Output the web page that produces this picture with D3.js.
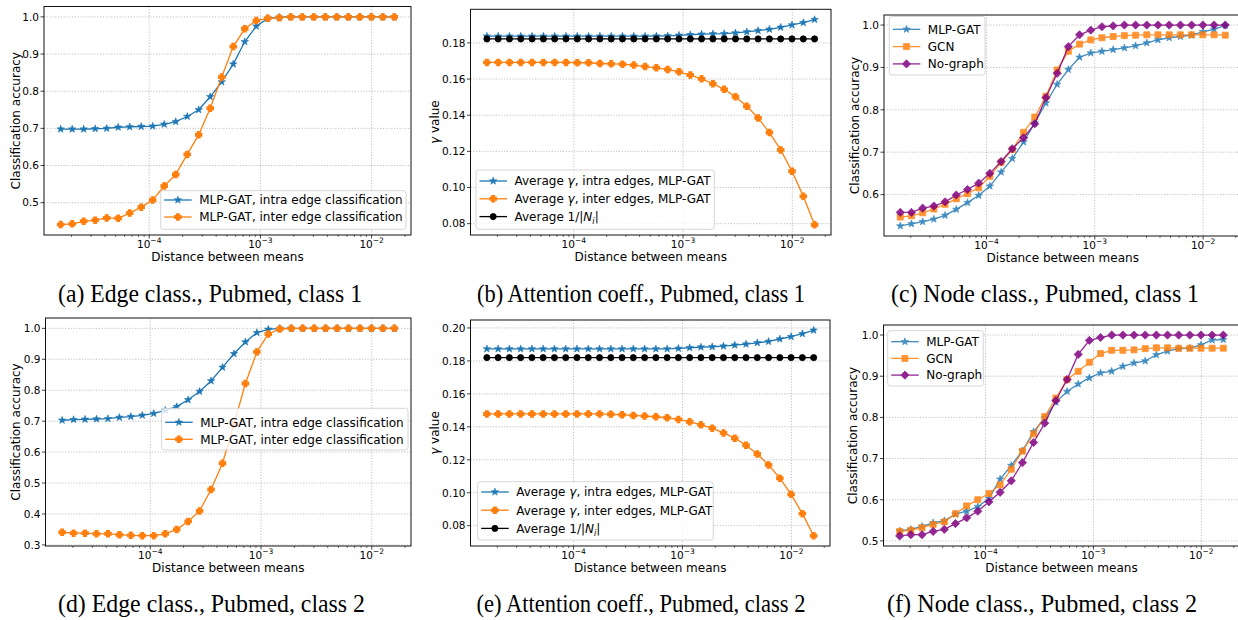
<!DOCTYPE html>
<html><head><meta charset="utf-8">
<script src="https://cdn.jsdelivr.net/npm/d3@7"></script>
<style>
body{margin:0;background:#fff;}
svg text{font-family:"DejaVu Sans",sans-serif;fill:#000;}
</style>
</head><body>
<svg id="chart" width="1238" height="620"></svg>
<script>
// ---------------- DATA ----------------
const distances = [1.600e-5,2.030e-5,2.576e-5,3.269e-5,4.148e-5,5.263e-5,6.679e-5,8.475e-5,1.075e-4,1.365e-4,
  1.732e-4,2.198e-4,2.789e-4,3.538e-4,4.490e-4,5.698e-4,7.230e-4,9.176e-4,1.164e-3,1.477e-3,
  1.875e-3,2.379e-3,3.019e-3,3.831e-3,4.861e-3,6.169e-3,7.828e-3,9.934e-3,1.261e-2,1.600e-2];

// (a) Edge classification, class 1
const aIntra = [0.698,0.698,0.698,0.699,0.700,0.703,0.704,0.705,0.706,0.711,0.718,0.732,0.750,0.785,0.825,0.873,0.933,0.975,0.996,0.999,1.0,1.0,1.0,1.0,1.0,1.0,1.0,1.0,1.0,1.0];
const aInter = [0.441,0.443,0.450,0.453,0.459,0.458,0.472,0.488,0.507,0.545,0.576,0.630,0.683,0.754,0.838,0.920,0.968,0.990,0.996,0.998,1.0,1.0,1.0,1.0,1.0,1.0,1.0,1.0,1.0,1.0];
// (b) Attention coefficients, class 1
const bIntra = [0.1837,0.1837,0.1837,0.1837,0.1837,0.1837,0.1837,0.1837,0.1837,0.1837,0.1837,0.1837,0.1837,0.1837,0.1837,0.1838,0.1839,0.1842,0.1845,0.1848,0.1850,0.1851,0.1855,0.1861,0.1868,0.1875,0.1886,0.1899,0.1912,0.1929];
const bInter = [0.1692,0.1692,0.1692,0.1692,0.1692,0.1692,0.1692,0.1692,0.1690,0.1690,0.1686,0.1684,0.1682,0.1677,0.1669,0.1662,0.1653,0.1640,0.1622,0.1601,0.1574,0.1543,0.1502,0.1449,0.1385,0.1304,0.1208,0.1090,0.0951,0.0794];
const bNbr = [0.1822,0.1822,0.1822,0.1822,0.1822,0.1822,0.1822,0.1822,0.1822,0.1822,0.1822,0.1822,0.1822,0.1822,0.1822,0.1822,0.1822,0.1822,0.1822,0.1822,0.1822,0.1822,0.1822,0.1822,0.1822,0.1822,0.1822,0.1822,0.1822,0.1822];
// (c) Node classification, class 1
const cMlp = [0.526,0.531,0.536,0.542,0.551,0.565,0.581,0.598,0.620,0.653,0.685,0.724,0.769,0.816,0.860,0.895,0.924,0.934,0.938,0.942,0.946,0.951,0.958,0.965,0.970,0.973,0.976,0.984,0.990,0.999];
const cGcn = [0.547,0.550,0.557,0.566,0.577,0.590,0.602,0.616,0.643,0.676,0.706,0.747,0.783,0.832,0.894,0.938,0.955,0.965,0.970,0.973,0.975,0.976,0.977,0.977,0.977,0.977,0.977,0.977,0.977,0.976];
const cNone = [0.558,0.558,0.568,0.573,0.583,0.599,0.612,0.627,0.650,0.678,0.708,0.734,0.767,0.829,0.886,0.949,0.977,0.988,0.996,0.998,1.0,1.0,1.0,1.0,1.0,1.0,1.0,1.0,1.0,1.0];
// (d) Edge classification, class 2
const dIntra = [0.703,0.705,0.706,0.707,0.708,0.712,0.715,0.719,0.725,0.735,0.747,0.769,0.796,0.830,0.874,0.918,0.956,0.986,0.997,1.0,1.0,1.0,1.0,1.0,1.0,1.0,1.0,1.0,1.0,1.0];
const dInter = [0.341,0.338,0.338,0.336,0.336,0.333,0.331,0.330,0.330,0.336,0.350,0.376,0.410,0.479,0.564,0.690,0.822,0.924,0.982,0.998,1.0,1.0,1.0,1.0,1.0,1.0,1.0,1.0,1.0,1.0];
// (e) Attention coefficients, class 2
const eIntra = [0.1873,0.1873,0.1873,0.1873,0.1873,0.1873,0.1873,0.1873,0.1873,0.1873,0.1873,0.1873,0.1873,0.1873,0.1873,0.1873,0.1873,0.1876,0.1880,0.1884,0.1886,0.1890,0.1896,0.1902,0.1910,0.1918,0.1933,0.1947,0.1965,0.1986];
const eInter = [0.1478,0.1478,0.1478,0.1478,0.1478,0.1478,0.1478,0.1478,0.1478,0.1478,0.1478,0.1476,0.1473,0.1469,0.1465,0.1461,0.1455,0.1445,0.1431,0.1412,0.1392,0.1363,0.1331,0.1288,0.1235,0.1169,0.1088,0.0990,0.0873,0.0739];
const eNbr = [0.182,0.182,0.182,0.182,0.182,0.182,0.182,0.182,0.182,0.182,0.182,0.182,0.182,0.182,0.182,0.182,0.182,0.182,0.182,0.182,0.182,0.182,0.182,0.182,0.182,0.182,0.182,0.182,0.182,0.182];
// (f) Node classification, class 2
const fMlp = [0.524,0.528,0.535,0.544,0.549,0.565,0.572,0.583,0.603,0.650,0.683,0.719,0.765,0.799,0.837,0.863,0.881,0.896,0.908,0.912,0.924,0.932,0.937,0.952,0.961,0.967,0.968,0.976,0.988,0.989];
const fGcn = [0.523,0.526,0.532,0.540,0.546,0.566,0.585,0.600,0.615,0.636,0.674,0.718,0.760,0.802,0.847,0.892,0.912,0.934,0.955,0.963,0.963,0.964,0.967,0.969,0.969,0.968,0.968,0.968,0.968,0.968];
const fNone = [0.512,0.515,0.515,0.523,0.528,0.542,0.556,0.572,0.595,0.618,0.646,0.690,0.739,0.786,0.841,0.892,0.953,0.987,0.994,1.0,1.0,1.0,1.0,1.0,1.0,1.0,1.0,1.0,1.0,1.0];

// tick values
const xMajorExps = [-4,-3,-2];
const yTicksA = [0.5,0.6,0.7,0.8,0.9,1.0];
const yTicksB = [0.08,0.10,0.12,0.14,0.16,0.18];
const yTicksC = [0.6,0.7,0.8,0.9,1.0];
const yTicksD = [0.3,0.4,0.5,0.6,0.7,0.8,0.9,1.0];
const yTicksE = [0.08,0.10,0.12,0.14,0.16,0.18,0.20];
const yTicksF = [0.5,0.6,0.7,0.8,0.9,1.0];

// labels
const xLabel = "Distance between means";
const accLabel = [{t:"Classification accuracy"}];
const gammaLabel = [{t:"γ",i:true},{t:" value"}];
const edgeNames = [[{t:"MLP-GAT, intra edge classification"}],[{t:"MLP-GAT, inter edge classification"}]];
const attnNames = [[{t:"Average "},{t:"γ",i:true},{t:", intra edges, MLP-GAT"}],
                   [{t:"Average "},{t:"γ",i:true},{t:", inter edges, MLP-GAT"}],
                   [{t:"Average 1/|"},{t:"N",i:true},{t:"i",i:true,sub:true},{t:"|"}]];
const nodeNames = [[{t:"MLP-GAT"}],[{t:"GCN"}],[{t:"No-graph"}]];
const captions = ["(a) Edge class., Pubmed, class 1","(b) Attention coeff., Pubmed, class 1","(c) Node class., Pubmed, class 1",
                  "(d) Edge class., Pubmed, class 2","(e) Attention coeff., Pubmed, class 2","(f) Node class., Pubmed, class 2"];

// ---------------- STYLES / LAYOUT ----------------
const BLUE="#1f77b4", ORANGE="#ff7f0e", PURPLE="#800080", BLACK="#000000";

const panels = [
  {box:{l:44,r:411,t:6.5,b:235}, ys:[[aIntra,BLUE,"star"],[aInter,ORANGE,"plus"]], names:edgeNames, yTicks:yTicksA, fmt:".1f", ylab:accLabel, ylabX:16,
   leg:{x:160.7,y:190.7,w:245.3,h:38.6,r0:9.3,dy:17}, cap:{x:210,y:302,w:304}, op:1},
  {box:{l:470.5,r:831,t:9.3,b:235}, ys:[[bIntra,BLUE,"star"],[bInter,ORANGE,"plus"],[bNbr,BLACK,"circle"]], names:attnNames, yTicks:yTicksB, fmt:".2f", ylab:gammaLabel, ylabX:435,
   leg:{x:476,y:170,w:238.3,h:59.3,r0:11,dy:17.8}, cap:{x:641,y:302,w:328}, op:1},
  {box:{l:884,r:1241.5,t:15,b:236}, ys:[[cMlp,BLUE,"star"],[cGcn,ORANGE,"square"],[cNone,PURPLE,"diamond"]], names:nodeNames, yTicks:yTicksC, fmt:".1f", ylab:accLabel, ylabX:855,
   leg:{x:889.3,y:16.5,w:95.7,h:58.5,r0:12.8,dy:17.3}, cap:{x:1045,y:302,w:308}, op:0.85},
  {box:{l:45.5,r:411,t:318,b:546}, ys:[[dIntra,BLUE,"star"],[dInter,ORANGE,"plus"]], names:edgeNames, yTicks:yTicksD, fmt:".1f", ylab:accLabel, ylabX:16,
   leg:{x:161.7,y:408.3,w:246.3,h:41.7,r0:14,dy:17}, cap:{x:211.5,y:612,w:307}, op:1},
  {box:{l:470.5,r:830,t:320,b:546}, ys:[[eIntra,BLUE,"star"],[eInter,ORANGE,"plus"],[eNbr,BLACK,"circle"]], names:attnNames, yTicks:yTicksE, fmt:".2f", ylab:gammaLabel, ylabX:435,
   leg:{x:477.7,y:481.7,w:235.6,h:58.3,r0:10.3,dy:18.2}, cap:{x:641,y:612,w:329}, op:1},
  {box:{l:883.5,r:1239.5,t:325,b:546}, ys:[[fMlp,BLUE,"star"],[fGcn,ORANGE,"square"],[fNone,PURPLE,"diamond"]], names:nodeNames, yTicks:yTicksF, fmt:".1f", ylab:accLabel, ylabX:853,
   leg:{x:887.7,y:330.7,w:95.6,h:55.3,r0:11,dy:16.7}, cap:{x:1042,y:612,w:310}, op:0.85}
];

// ---------------- MARKERS ----------------
function starPath(R){const p=[];for(let i=0;i<10;i++){const r=i%2?R*0.4:R;const a=-Math.PI/2+i*Math.PI/5;p.push([r*Math.cos(a),r*Math.sin(a)]);}return "M"+p.map(d=>d[0].toFixed(2)+","+d[1].toFixed(2)).join("L")+"Z";}
function plusPath(h){const a=h*0.42;const pts=[[-a,-h],[a,-h],[a,-a],[h,-a],[h,a],[a,a],[a,h],[-a,h],[-a,a],[-h,a],[-h,-a],[-a,-a]];return "M"+pts.map(d=>d.join(",")).join("L")+"Z";}
function squarePath(h){return `M${-h},${-h}L${h},${-h}L${h},${h}L${-h},${h}Z`;}
function diamondPath(h){return `M0,${-h}L${h},0L0,${h}L${-h},0Z`;}
function circlePath(r){return `M${r},0A${r},${r},0,1,1,${-r},0A${r},${r},0,1,1,${r},0Z`;}
const markers = {
  star:{d:starPath(3.9), sw:0.6},
  plus:{d:plusPath(3.1), sw:1.3},
  square:{d:squarePath(3.0), sw:0.8},
  diamond:{d:diamondPath(4.1), sw:0.8},
  circle:{d:circlePath(3.1), sw:0.8}
};

const svg = d3.select("#chart");
svg.append("rect").attr("width",1238).attr("height",620).attr("fill","#fff");

function addRich(sel, segs, size){
  segs.forEach(s=>{
    const ts = sel.append("tspan").text(s.t);
    if(s.i) ts.attr("font-style","italic");
    if(s.sub){ ts.attr("font-size",size*0.7).attr("dy",size*0.25); }
    else if(sel.attr("data-sub")==="1"){ ts.attr("dy",-size*0.25); }
    sel.attr("data-sub", s.sub?"1":"0");
  });
}

panels.forEach(P=>{
  const g = svg.append("g");
  const B = P.box;
  const allY = P.ys.flatMap(s=>s[0]);
  const yMin=d3.min(allY), yMax=d3.max(allY), pad=(yMax-yMin)*0.05;
  const y = d3.scaleLinear().domain([yMin-pad,yMax+pad]).range([B.b,B.t]);
  const lx0=Math.log10(d3.min(distances)), lx1=Math.log10(d3.max(distances)), lp=(lx1-lx0)*0.05;
  const x = d3.scaleLog().domain([Math.pow(10,lx0-lp),Math.pow(10,lx1+lp)]).range([B.l,B.r]);

  const clipId = "clip"+Math.random().toString(36).slice(2);
  g.append("clipPath").attr("id",clipId).append("rect").attr("x",B.l).attr("y",B.t).attr("width",B.r-B.l).attr("height",B.b-B.t);

  // grid
  const grid = g.append("g").attr("stroke","#b0b0b0").attr("stroke-width",0.8).attr("stroke-dasharray","1.2,1.6");
  xMajorExps.forEach(e=>{const v=Math.pow(10,e);grid.append("line").attr("x1",x(v)).attr("x2",x(v)).attr("y1",B.t).attr("y2",B.b);});
  P.yTicks.forEach(v=>{grid.append("line").attr("x1",B.l).attr("x2",B.r).attr("y1",y(v)).attr("y2",y(v));});

  // series
  const plot = g.append("g").attr("clip-path",`url(#${clipId})`);
  const line = d3.line().x((d,i)=>x(distances[i])).y(d=>y(d));
  P.ys.forEach(([vals,col,mk])=>{
    const sg = plot.append("g").attr("opacity",P.op);
    sg.append("path").datum(vals).attr("d",line).attr("fill","none").attr("stroke",col).attr("stroke-width",1.3);
    sg.selectAll("path.m").data(vals).enter().append("path").attr("class","m")
      .attr("d",markers[mk].d).attr("transform",(d,i)=>`translate(${x(distances[i])},${y(d)})`)
      .attr("fill",col).attr("stroke",col).attr("stroke-width",markers[mk].sw).attr("stroke-linejoin","miter");
  });

  // spines
  g.append("rect").attr("x",B.l).attr("y",B.t).attr("width",B.r-B.l).attr("height",B.b-B.t)
    .attr("fill","none").attr("stroke","#111").attr("stroke-width",1);

  // x ticks
  const [d0,d1]=x.domain();
  for(let e=Math.floor(Math.log10(d0)); e<=Math.ceil(Math.log10(d1)); e++){
    for(let m=1;m<=9;m++){
      const v=m*Math.pow(10,e); if(v<d0||v>d1) continue;
      const major = m===1;
      g.append("line").attr("x1",x(v)).attr("x2",x(v)).attr("y1",B.b).attr("y2",B.b+(major?3.5:2))
        .attr("stroke","#111").attr("stroke-width",major?0.8:0.6);
    }
  }
  xMajorExps.forEach(e=>{
    const t=g.append("text").attr("x",x(Math.pow(10,e))).attr("y",B.b+12.5).attr("text-anchor","middle").attr("font-size",10.5);
    t.append("tspan").text("10");
    t.append("tspan").text("−"+Math.abs(e)).attr("font-size",7.5).attr("dy",-4.5);
  });
  g.append("text").attr("x",(B.l+B.r)/2).attr("y",B.b+26).attr("text-anchor","middle").attr("font-size",12).text(xLabel);

  // y ticks
  const f=d3.format(P.fmt);
  P.yTicks.forEach(v=>{
    g.append("line").attr("x1",B.l-3.5).attr("x2",B.l).attr("y1",y(v)).attr("y2",y(v)).attr("stroke","#111").attr("stroke-width",0.8);
    g.append("text").attr("x",B.l-5).attr("y",y(v)).attr("dy","0.36em").attr("text-anchor","end").attr("font-size",10.5).text(f(v));
  });
  const yl=g.append("text").attr("transform",`translate(${P.ylabX},${(B.t+B.b)/2}) rotate(-90)`).attr("dy","0.35em")
    .attr("text-anchor","middle").attr("font-size",12);
  addRich(yl,P.ylab,12);

  // legend
  const L=P.leg;
  const lg=g.append("g");
  lg.append("rect").attr("x",L.x).attr("y",L.y).attr("width",L.w).attr("height",L.h).attr("rx",2.5)
    .attr("fill","#fff").attr("fill-opacity",0.8).attr("stroke","#cccccc").attr("stroke-width",0.8);
  P.ys.forEach(([vals,col,mk],i)=>{
    const yy=L.y+L.r0+i*L.dy;
    const eg=lg.append("g").attr("opacity",P.op);
    eg.append("line").attr("x1",L.x+3.5).attr("x2",L.x+31).attr("y1",yy).attr("y2",yy).attr("stroke",col).attr("stroke-width",1.3);
    eg.append("path").attr("d",markers[mk].d).attr("transform",`translate(${L.x+17.2},${yy})`).attr("fill",col).attr("stroke",col).attr("stroke-width",markers[mk].sw);
    const t=lg.append("text").attr("x",L.x+38.5).attr("y",yy).attr("dy","0.36em").attr("font-size",12);
    addRich(t,P.names[i],12);
  });
});

// captions (serif, slightly condensed as in the typeset figure)
panels.forEach((P,i)=>{
  svg.append("text").attr("x",P.cap.x).attr("y",P.cap.y).attr("text-anchor","middle")
    .style("font-family","'Liberation Serif','Times New Roman',serif").attr("font-size",25)
    .attr("textLength",P.cap.w).attr("lengthAdjust","spacingAndGlyphs").text(captions[i]);
});
</script>
</body></html>
